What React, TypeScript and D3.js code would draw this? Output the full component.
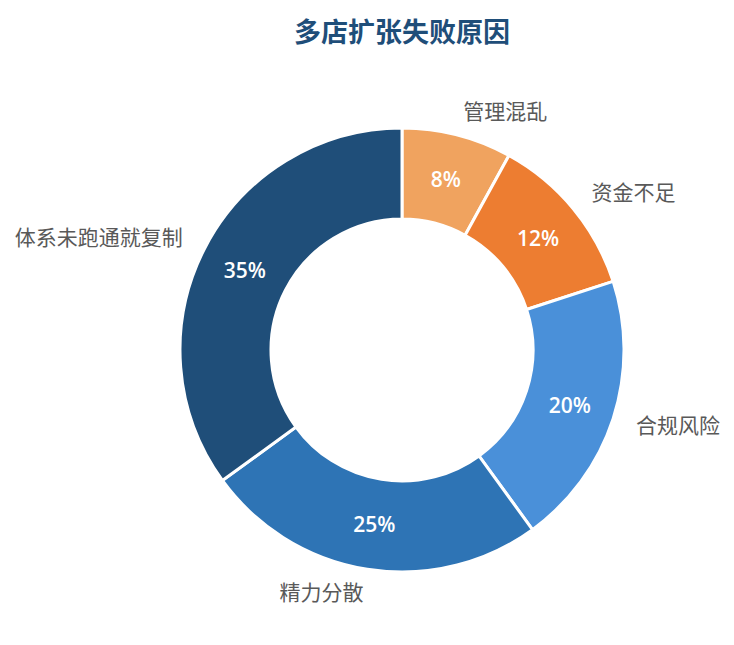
import React from "react";
import * as d3 from "d3";

const categories = ["管理混乱", "资金不足", "合规风险", "精力分散", "体系未跑通就复制"];
const values = [8, 12, 20, 25, 35];
const colors = ["#f0a35f", "#ed7d31", "#4a90d9", "#2e74b5", "#1f4e79"];
const title = "多店扩张失败原因";

const W = 734;
const H = 645;
const cx = 402;
const cy = 350;
const outerR = 222;
const innerR = 131;
const labelR = 246;
const font = "'Noto Sans CJK SC', 'Noto Sans', sans-serif";
const numFont = "'Open Sans', 'Noto Sans', sans-serif";

export default function App() {
  const pie = d3.pie<number>().sort(null).value((d) => d);
  const arcs = pie(values);
  const arcGen = d3.arc<d3.PieArcDatum<number>>().innerRadius(innerR).outerRadius(outerR);
  const total = d3.sum(values);
  return (
    <svg width={W} height={H} style={{ position: "absolute", left: 0, top: 0, background: "#fff" }}>
      <text x={cx} y={30} textAnchor="middle" dominantBaseline="central" fontFamily={font} fontWeight="bold" fontSize={27} fill="#1f4e79">
        {title}
      </text>
      <g transform={`translate(${cx},${cy})`}>
        {arcs.map((a, i) => (
          <path key={i} d={arcGen(a) || ""} fill={colors[i]} stroke="#fff" strokeWidth={3} />
        ))}
        {arcs.map((a, i) => {
          const mid = (a.startAngle + a.endAngle) / 2;
          const rm = (innerR + outerR) / 2;
          const x = Math.sin(mid) * rm;
          const y = -Math.cos(mid) * rm;
          return (
            <text key={"p" + i} x={x} y={y} textAnchor="middle" dominantBaseline="central" fontFamily={numFont} fontWeight={600} fontSize={21} fill="#fff">
              {Math.round((values[i] / total) * 100)}%
            </text>
          );
        })}
        {arcs.map((a, i) => {
          const mid = (a.startAngle + a.endAngle) / 2;
          const x = Math.sin(mid) * labelR;
          const y = -Math.cos(mid) * labelR - 2;
          const anchor = Math.sin(mid) >= 0 ? "start" : "end";
          return (
            <text key={"l" + i} x={x} y={y} textAnchor={anchor} dominantBaseline="central" fontFamily={font} fontSize={21} fill="#595959">
              {categories[i]}
            </text>
          );
        })}
      </g>
    </svg>
  );
}
